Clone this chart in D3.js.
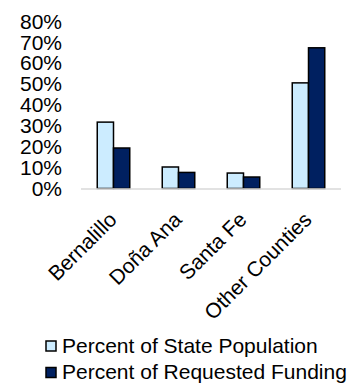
<!DOCTYPE html>
<html><head><meta charset="utf-8">
<script src="https://cdn.jsdelivr.net/npm/d3@7"></script>
<style>body{margin:0;background:#fff}svg{display:block;font-family:"Liberation Sans",Arial,sans-serif}</style>
</head><body>
<script>
const categories = ["Bernalillo", "Doña Ana", "Santa Fe", "Other Counties"];
const seriesNames = ["Percent of State Population", "Percent of Requested Funding"];
const population = [0.318, 0.103, 0.074, 0.506];
const funding = [0.194, 0.077, 0.055, 0.674];
const yTicks = [0, 0.1, 0.2, 0.3, 0.4, 0.5, 0.6, 0.7, 0.8];
const colors = ["#CCECFF", "#002060"];

const W = 362, H = 385, FS = 21;
const svg = d3.select("body").append("svg").attr("width", W).attr("height", H);

const x = d3.scaleBand().domain(categories).range([81, 341]).paddingInner(0.5).paddingOuter(0.25);
const xs = d3.scaleBand().domain([0, 1]).range([0, x.bandwidth()]);
const y = d3.scaleLinear().domain([0, 0.8]).range([188.5, 21.5]);

// y labels
const yAxis = d3.axisLeft(y).tickValues(yTicks).tickFormat(d3.format(".0%")).tickSize(0).tickPadding(0);
const ya = svg.append("g").attr("transform", "translate(62,0)").call(yAxis);
ya.select(".domain").remove();
ya.selectAll("text").attr("font-size", FS).attr("fill", "#000").attr("font-family", "Liberation Sans, Arial, sans-serif");

const rows = categories.map((c, i) => ({c, v: [population[i], funding[i]]}));
const g = svg.append("g");
rows.forEach(r => {
  r.v.forEach((v, k) => {
    g.append("rect")
      .attr("x", x(r.c) + xs(k))
      .attr("y", y(v))
      .attr("width", xs.bandwidth())
      .attr("height", y(0) - y(v))
      .attr("fill", colors[k])
      .attr("stroke", "#000")
      .attr("stroke-width", 1.5);
  });
});

// baseline
svg.append("line").attr("x1", 81).attr("x2", 341).attr("y1", y(0) + 0.5).attr("y2", y(0) + 0.5)
  .attr("stroke", "#d9d9d9").attr("stroke-width", 1.5);

// x labels
const xAxis = d3.axisBottom(x).tickSize(0).tickPadding(0);
const xa = svg.append("g").attr("transform", `translate(0,${y(0)})`).call(xAxis);
xa.select(".domain").remove();
xa.selectAll("text")
  .attr("font-size", FS).attr("fill", "#000").attr("font-family", "Liberation Sans, Arial, sans-serif")
  .attr("text-anchor", "end").attr("dy", null).attr("y", 0)
  .attr("transform", "translate(4.5,32.5) rotate(-45)");

// legend
const leg = svg.append("g");
seriesNames.forEach((n, k) => {
  const cy = 346 + k * 26.5;
  leg.append("rect").attr("x", 46).attr("y", cy - 5).attr("width", 10).attr("height", 10)
    .attr("fill", colors[k]).attr("stroke", "#000").attr("stroke-width", 1.5);
  leg.append("text").attr("x", 62).attr("y", cy + 6.8)
    .attr("font-size", FS).attr("fill", "#000").text(n);
});
</script>
</body></html>
